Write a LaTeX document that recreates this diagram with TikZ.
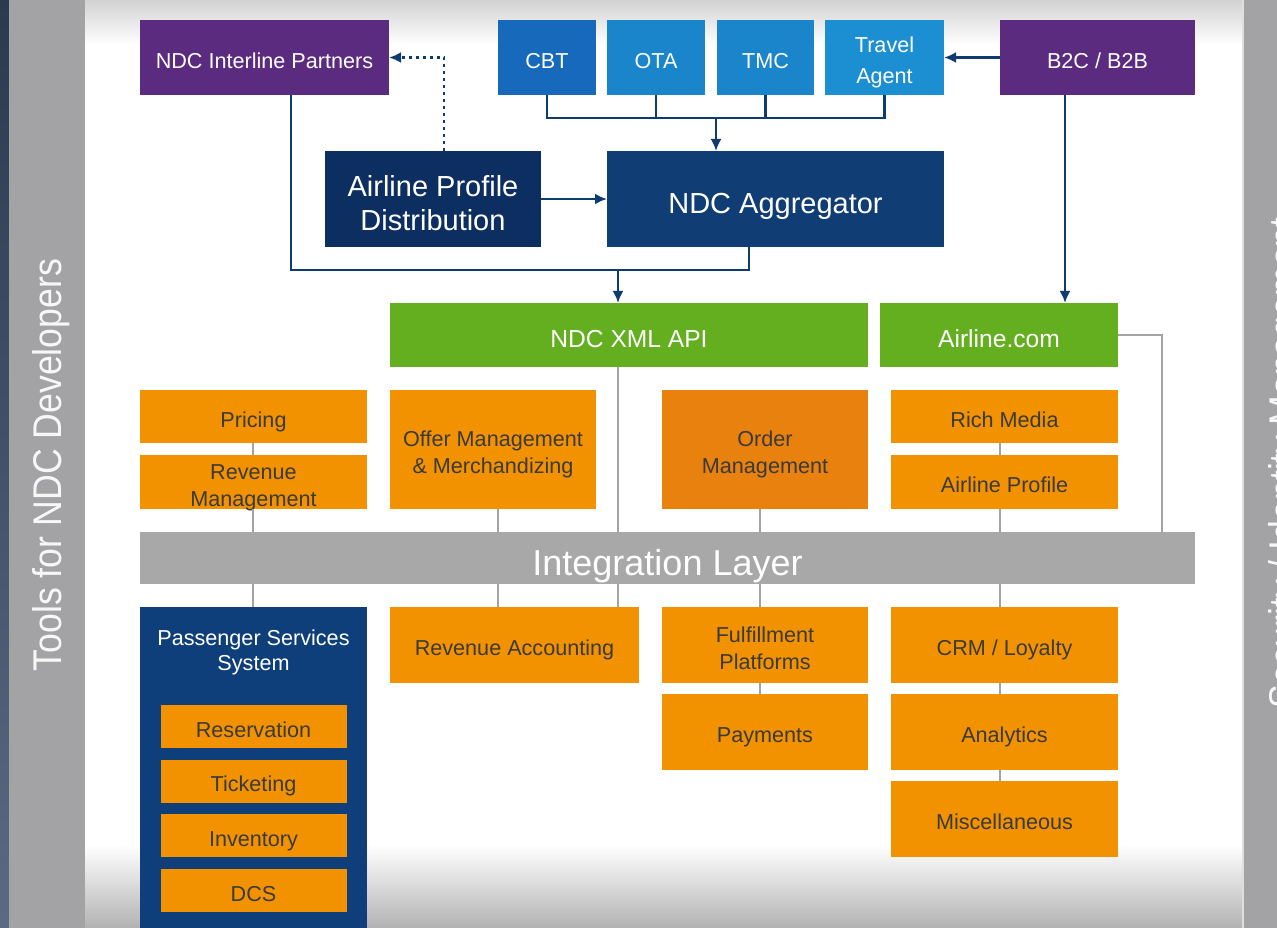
\documentclass[tikz,border=0pt]{standalone}
\usepackage{fontspec}
\setmainfont{Liberation Sans}
\newfontfamily\sidefont[FakeStretch=0.89]{Liberation Sans}
\usetikzlibrary{calc}
\usetikzlibrary{arrows.meta}

\definecolor{ndcpurple}{HTML}{5B2B80}
\definecolor{cbtblue}{HTML}{1769BC}
\definecolor{otablue}{HTML}{1A85CA}
\definecolor{tablue}{HTML}{1B8FD1}
\definecolor{apdnavy}{HTML}{0D2E60}
\definecolor{aggnavy}{HTML}{0F3D74}
\definecolor{pssnavy}{HTML}{0E3F7A}
\definecolor{ndcgreen}{HTML}{63AF1F}
\definecolor{ndcorange}{HTML}{F39200}
\definecolor{ordorange}{HTML}{E8810E}
\definecolor{ilgray}{HTML}{A8A8A8}
\definecolor{glinegray}{HTML}{A3A3A3}
\definecolor{linenavy}{HTML}{0E3C70}
\definecolor{ndctext}{HTML}{3A3A3A}
\definecolor{sidegray}{HTML}{A3A3A5}
\definecolor{stripa}{HTML}{2A3A4F}
\definecolor{stripb}{HTML}{5A6A82}

\newcommand\ndcsmall{\fontsize{12.3}{15.4}\selectfont}
\newcommand\ndcmid{\fontsize{14}{17}\selectfont}
\newcommand\ndcbig{\fontsize{16.5}{19.9}\selectfont}
\newcommand\ndclayer{\fontsize{20.5}{24}\selectfont}

\tikzset{
  blk/.style 2 args={inner sep=0, outer sep=0, minimum width=#1*0.2mm, minimum height=#2*0.2mm,
    align=center, text depth=0pt},
  purplebox/.style={fill=ndcpurple, text=white, font=\ndcsmall, text height=12.3pt},
  bluebox/.style={text=white, font=\ndcsmall, text height=12.3pt},
  navybox/.style={text=white, font=\ndcbig, text height=16.5pt},
  greenbox/.style={fill=ndcgreen, text=white, font=\ndcmid, text height=14pt},
  orangebox/.style={fill=ndcorange, text=ndctext, font=\ndcsmall, text height=12.3pt},
  twoline/.style={text height=27.7pt},
  link/.style={linenavy, line width=0.55mm},
  arr/.style={link, -{Latex[length=2.4mm, width=2.2mm]}},
  glink/.style={glinegray, line width=0.45mm},
}

\begin{document}
\begin{tikzpicture}[x=0.2mm, y=-0.2mm]

\clip (0,0) rectangle (1277,928);
\fill[white] (0,0) rectangle (1277,928);
\shade[top color=gray!35, bottom color=white] (85,0) rectangle (1243,45);
\shade[top color=white, bottom color=gray!60] (85,845) rectangle (1243,928);

% side bars
\shade[top color=stripa, bottom color=stripb] (0,0) rectangle (9,928);
\fill[sidegray] (9,0) rectangle (85,928);
\fill[sidegray] (1243,0) rectangle (1277,928);
\draw[white!75!gray, line width=0.3mm] (1243,0) -- (1243,928);
\node[rotate=90, anchor=base, text=white!94!gray, font=\sidefont\fontsize{22.8}{26}\selectfont] (tools) at (62,465) {Tools for NDC Developers};
\node[rotate=90, anchor=base, text=white!94!gray, font=\sidefont\fontsize{22.8}{26}\selectfont] (secu) at (1297,463) {Security / Identity Management};

% channels
\node[blk={249}{75}, purplebox] (nip) at (264.5,57.5) {NDC Interline Partners};
\node[blk={98}{75}, bluebox, fill=cbtblue] (cbt) at (547,57.5) {CBT};
\node[blk={98}{75}, bluebox, fill=otablue] (ota) at (656,57.5) {OTA};
\node[blk={97}{75}, bluebox, fill=otablue] (tmc) at (765.5,57.5) {TMC};
\node[blk={119}{75}, bluebox, fill=tablue, font=\fontsize{12.3}{17.6}\selectfont, text height=29.9pt] (ta) at (884.5,57.5) {Travel\\Agent};
\node[blk={195}{75}, purplebox] (b2c) at (1097.5,57.5) {B2C / B2B};

\node[blk={216}{96}, navybox, fill=apdnavy, text height=36.4pt] (apd) at (433,199) {Airline Profile\\Distribution};
\node[blk={337}{96}, navybox, fill=aggnavy] (agg) at (775.5,199) {NDC Aggregator};

\node[blk={478}{64}, greenbox] (xml) at (629,335) {NDC XML API};
\node[blk={238}{64}, greenbox] (air) at (999,335) {Airline.com};

% airline systems
\node[blk={227}{53}, orangebox] (pri) at (253.5,416.5) {Pricing};
\node[blk={227}{54}, orangebox, twoline] (rev) at (253.5,482) {Revenue\\Management};
\node[blk={206}{119}, orangebox, twoline] (off) at (493,449.5) {Offer Management\\\& Merchandizing};
\node[blk={206}{119}, orangebox, twoline, fill=ordorange] (ord) at (765,449.5) {Order\\Management};
\node[blk={227}{53}, orangebox] (rich) at (1004.5,416.5) {Rich Media};
\node[blk={227}{54}, orangebox] (prof) at (1004.5,482) {Airline Profile};

\node[blk={1055}{52}, fill=ilgray, text=white, font=\ndclayer, text height=19.5pt] (il) at (667.5,558) {Integration Layer};

\node[blk={227}{330}, fill=pssnavy] (pss) at (253.5,772) {};
\node[text=white, align=center, font=\fontsize{12.3}{14.2}\selectfont] (psst) at (253.5,652) {Passenger Services\\System};
\foreach \lab [count=\i] in {Reservation,Ticketing,Inventory,DCS}
  \node[blk={186}{43}, orangebox] (pss\i) at (253.5,{726.5+54.67*(\i-1)}) {\lab};

\node[blk={249}{76}, orangebox] (rac) at (514.5,645) {Revenue Accounting};
\node[blk={206}{76}, orangebox, twoline] (ful) at (765,645) {Fulfillment\\Platforms};
\node[blk={206}{76}, orangebox] (pay) at (765,732) {Payments};
\node[blk={227}{76}, orangebox] (crm) at (1004.5,645) {CRM / Loyalty};
\node[blk={227}{76}, orangebox] (ana) at (1004.5,732) {Analytics};
\node[blk={227}{76}, orangebox] (misc) at (1004.5,819) {Miscellaneous};

% gray links
\coordinate (c0) at (253,0);
\coordinate (c1) at (498,0);
\coordinate (c2) at (618,0);
\coordinate (c3) at (760,0);
\coordinate (c4) at (1000,0);
\coordinate (c5) at (1162,0);
\foreach \a/\b/\c in {pri/rev/c0, rev/il/c0, il/pss/c0, off/il/c1, il/rac/c1, xml/il/c2, il/rac/c2,
    ord/il/c3, il/ful/c3, ful/pay/c3, rich/prof/c4, prof/il/c4, il/crm/c4, crm/ana/c4, ana/misc/c4}
  \draw[glink] (\a.south -| \c) -- (\b.north -| \c);
\draw[glink] (air.east) -| (il.north -| c5);

% navy links
\coordinate (bus) at (0,118);
\coordinate (c6) at (716,0);
\draw[link] (cbt.south) |- (ta.south |- bus) -- (ta.south);
\foreach \n in {ota,tmc}
  \draw[link] (\n.south) -- (\n.south |- bus);
\draw[arr] (bus -| c6) -- (agg.north -| c6);
\draw[arr] (b2c) -- (ta);
\draw[arr] (apd) -- (agg);
\draw[arr, dash pattern=on 0.6mm off 0.8mm] ($(apd.north)+(11,0)$) |- (nip.east);

\coordinate (mrg) at (0,270);
\coordinate (nipo) at ($(nip.south)+(26.5,0)$);
\coordinate (aggo) at ($(agg.south)+(-26.5,0)$);
\draw[link] (nipo) |- (aggo |- mrg) -- (aggo);
\draw[arr] (mrg -| c2) -- (xml.north -| c2);
\coordinate (b2co) at ($(b2c.south)+(-32.5,0)$);
\draw[arr] (b2co) -- (b2co |- air.north);

\end{tikzpicture}
\end{document}
